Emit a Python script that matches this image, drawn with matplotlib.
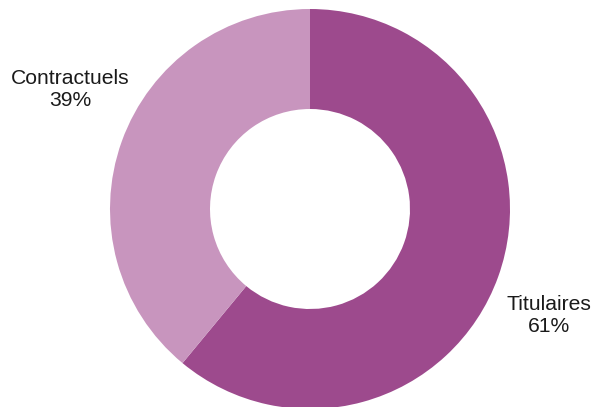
import matplotlib
matplotlib.use('Agg')
import matplotlib.pyplot as plt

labels = ['Titulaires', 'Contractuels']
values = [61, 39]
colors = ['#9D4A8D', '#C895BE']

fig = plt.figure(figsize=(5.92, 4.07), dpi=100)
ax = fig.add_axes([0, 0, 1, 1])

# donut, clockwise from 12 o'clock
ax.pie(values, colors=colors, startangle=90, counterclock=False,
       center=(310, 407 - 209), radius=200,
       wedgeprops=dict(width=100, linewidth=0), frame=True)
ax.set_xlim(0, 592)
ax.set_ylim(0, 407)
ax.set_aspect('equal')
ax.axis('off')

txt_pos = [(549, 407 - 316), (70, 407 - 89)]
for lab, v, (x, y) in zip(labels, values, txt_pos):
    ax.text(x, y, '%s\n%d%%' % (lab, v), ha='center', va='center',
            fontsize=15.2, family='Liberation Sans', color='#1a1a1a',
            linespacing=1.2)

fig.savefig('out.png', dpi=100)
